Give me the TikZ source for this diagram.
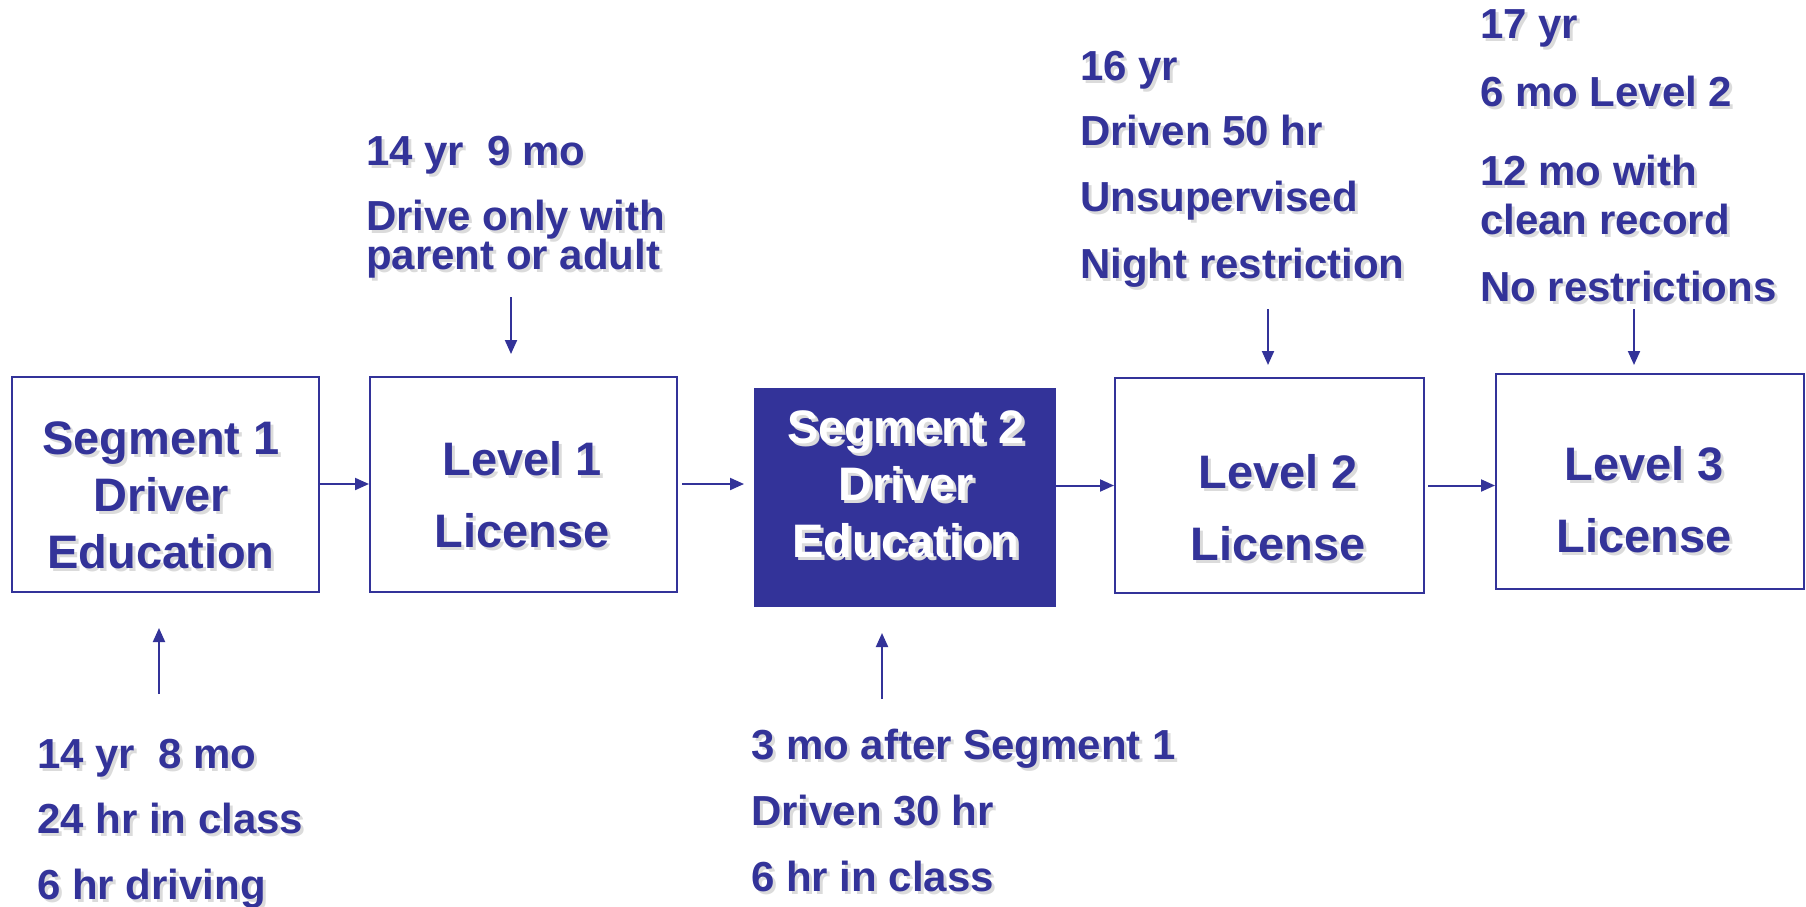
\documentclass[tikz,border=0pt]{standalone}
\usepackage{fontspec}
\setmainfont{Liberation Sans}
\usetikzlibrary{arrows.meta}

\definecolor{navy}{HTML}{333399}
\newcommand{\shd}[1]{\makebox[0pt][l]{\hspace{3pt}\raisebox{-3pt}{\textcolor{black!14}{#1}}}#1}

\tikzset{
  box/.style={draw=navy, line width=2pt, minimum height=215pt, inner sep=0pt},
  boxtxt/.style={align=center, text=navy, inner sep=0pt,
    font=\fontsize{47}{57}\selectfont\bfseries},
  lbl/.style={anchor=base west, text=navy, inner sep=0pt,
    font=\fontsize{42}{50}\selectfont\bfseries},
  arr/.style={navy, line width=2pt, -{Triangle[length=14pt,width=12pt]}}
}

\begin{document}
\begin{tikzpicture}[x=1pt,y=-1pt]
\useasboundingbox (0,0) rectangle (1806,907);

% the five stages
\node[box, minimum width=307pt] (seg1) at (165,484) {};
\node[box, minimum width=307pt] (lev1) at (523.5,484) {};
\node[box, fill=navy, minimum width=300pt, minimum height=217pt] (seg2) at (905,497.5) {};
\node[box, minimum width=309pt] (lev2) at (1269.5,485.5) {};
\node[box, minimum width=308pt] (lev3) at (1650,481.5) {};

\node[boxtxt] (seg1t) at (161,497) {\shd{Segment 1}\\\shd{Driver}\\\shd{Education}};
\node[boxtxt] (lev1t) at (522,496) {\shd{Level 1}\\[15pt]\shd{License}};
\node[boxtxt, text=white] (seg2t) at (906,486) {\shd{Segment 2}\\\shd{Driver}\\\shd{Education}};
\node[boxtxt] (lev2t) at (1278,509) {\shd{Level 2}\\[15pt]\shd{License}};
\node[boxtxt] (lev3t) at (1644,501) {\shd{Level 3}\\[15pt]\shd{License}};

% flow between stages
\draw[arr] (seg1.east) -- (lev1.west);
\draw[arr] ([xshift=4pt]lev1.east) -- ([xshift=-10pt]lev1.east -| seg2.west);
\draw[arr] (lev2.west -| seg2.east) -- (lev2.west);
\draw[arr] ([xshift=3pt]lev2.east) -- (lev2.east -| lev3.west);

% requirements
\foreach \y/\t [count=\i] in {165/14 yr~~9 mo, 230/Drive only with, 269/parent or adult}
  \node[lbl] (req1-\i) at (366,\y) {\shd{\t}};
\foreach \y/\t [count=\i] in {80/16 yr, 145/Driven 50 hr, 211/Unsupervised, 278/Night restriction}
  \node[lbl] (req2-\i) at (1080,\y) {\shd{\t}};
\foreach \y/\t [count=\i] in {39/17 yr, 106/6 mo Level 2, 185/12 mo with, 234/clean record, 301/No restrictions}
  \node[lbl] (req3-\i) at (1480,\y) {\shd{\t}};
\foreach \y/\t [count=\i] in {768/14 yr~~8 mo, 833/24 hr in class, 899/6 hr driving}
  \node[lbl] (req4-\i) at (37,\y) {\shd{\t}};
\foreach \y/\t [count=\i] in {759/3 mo after Segment 1, 825/Driven 30 hr, 891/6 hr in class}
  \node[lbl] (req5-\i) at (751,\y) {\shd{\t}};

% small arrows to the boxes
\foreach \x/\ya/\yb [count=\i] in {511/297/354, 1268/309/365, 1634/309/365, 159/694/628, 882/699/633} {
  \coordinate (s\i) at (\x,\ya);
  \coordinate (e\i) at (\x,\yb);
  \draw[arr] (s\i) -- (e\i);
}
\end{tikzpicture}
\end{document}
